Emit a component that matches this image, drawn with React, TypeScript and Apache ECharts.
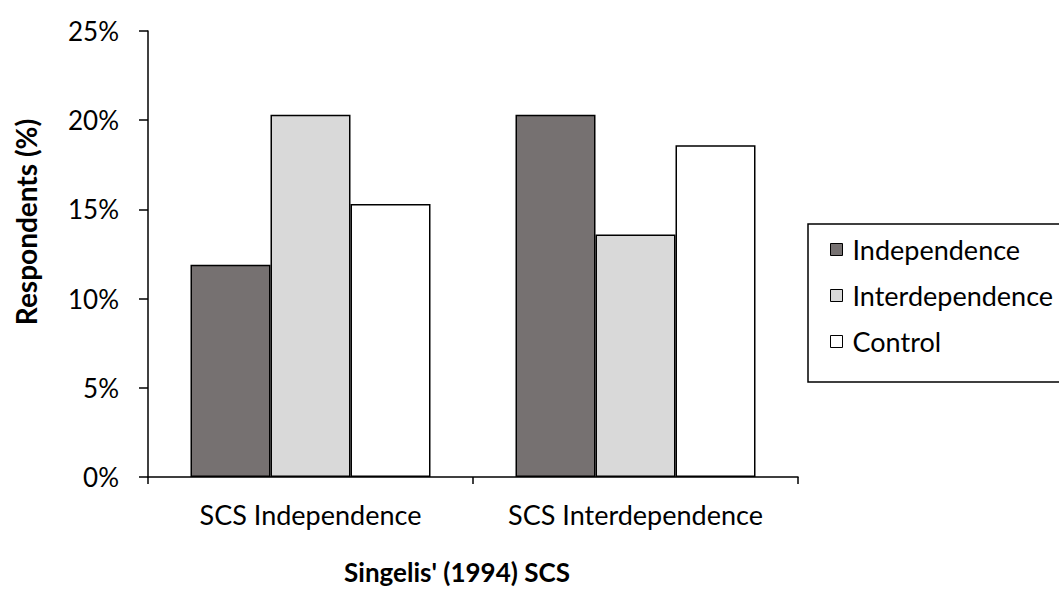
import React, { useEffect, useRef } from "react";
import * as echarts from "echarts";

const categories = ["SCS Independence", "SCS Interdependence"];
const independence = [11.9, 20.3];
const interdependence = [20.3, 13.6];
const control = [15.3, 18.6];
const seriesNames = ["Independence", "Interdependence", "Control"];
const colors = ["#767171", "#d9d9d9", "#ffffff"];
const yTitle = "Respondents (%)";
const xTitle = "Singelis' (1994) SCS";

const FONT = "Lato";

export default function App() {
  const ref = useRef<HTMLDivElement>(null);
  useEffect(() => {
    const chart = echarts.init(ref.current!, undefined, { renderer: "svg" });
    const data = [independence, interdependence, control];
    chart.setOption({
      animation: false,
      textStyle: { fontFamily: FONT },
      grid: { left: 148, right: 261, top: 31, bottom: 113, containLabel: false },
      legend: {
        orient: "vertical",
        left: 808,
        top: 224,
        padding: [12, 40, 27, 22],
        itemGap: 19,
        itemWidth: 12,
        itemHeight: 12,
        borderColor: "#000",
        borderWidth: 1.5,
        borderRadius: 0,
        icon: "rect",
        itemStyle: { borderColor: "#000", borderWidth: 1 },
        textStyle: { fontFamily: FONT, fontSize: 27, color: "#000", lineHeight: 27, padding: [0, 0, 0, 5] },
        data: seriesNames,
      },
      graphic: [
        {
          type: "text",
          x: 26,
          y: 222,
          rotation: Math.PI / 2,
          style: {
            text: yTitle,
            fontFamily: FONT,
            fontSize: 28,
            fontWeight: "bold",
            fill: "#000",
            align: "center",
            verticalAlign: "middle",
          },
        },
        {
          type: "text",
          x: 457,
          y: 572,
          style: {
            text: xTitle,
            fontFamily: FONT,
            fontSize: 26,
            fontWeight: "bold",
            fill: "#000",
            align: "center",
            verticalAlign: "middle",
          },
        },
      ],
      xAxis: {
        type: "category",
        data: categories,
        axisLine: { lineStyle: { color: "#000", width: 1.5 } },
        axisTick: { show: true, length: 7, alignWithLabel: false, lineStyle: { color: "#000", width: 1.5 } },
        axisLabel: { color: "#000", fontFamily: FONT, fontSize: 27, margin: 24, interval: 0, hideOverlap: false },
      },
      yAxis: {
        type: "value",
        min: 0,
        max: 25,
        interval: 5,
        axisLine: { show: true, lineStyle: { color: "#000", width: 1.5 } },
        axisTick: { show: true, length: 9, lineStyle: { color: "#000", width: 1.5 } },
        splitLine: { show: false },
        axisLabel: { color: "#000", fontFamily: FONT, fontSize: 26, margin: 29, formatter: "{value}%" },
      },
      series: seriesNames.map((name, i) => ({
        name,
        type: "bar",
        data: data[i],
        barWidth: 80,
        barGap: "0%",
        itemStyle: { color: colors[i], borderColor: "#000", borderWidth: 1.5 },
      })),
    });
    return () => chart.dispose();
  }, []);
  return <div ref={ref} style={{ width: 1059, height: 590, position: "absolute", left: 0, top: 0 }} />;
}
